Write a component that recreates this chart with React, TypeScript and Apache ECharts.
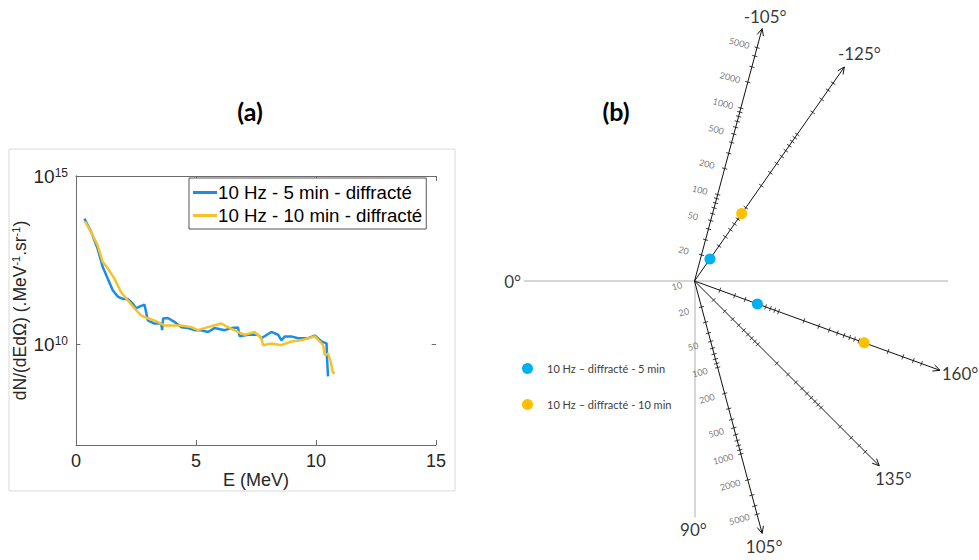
import React, { useEffect, useRef } from 'react';
import * as echarts from 'echarts';

// ---------- Panel (a): energy spectra ----------
const seriesNames = ['10 Hz - 5 min - diffracté', '10 Hz - 10 min - diffracté'];
const energyBlue = [0.35, 0.63, 0.9, 1.11, 1.32, 1.53, 1.74, 1.95, 2.16, 2.37, 2.5, 2.64, 2.85, 2.92, 2.99, 3.27, 3.55, 3.59, 3.63, 3.83, 4.1, 4.38, 4.66, 4.94, 5.22, 5.5, 5.77, 6.19, 6.47, 6.75, 6.82, 7.17, 7.58, 7.72, 8.14, 8.42, 8.56, 8.7, 8.97, 9.25, 9.67, 9.95, 10.23, 10.44, 10.46, 10.5];
const fluxBlue = [5.4e13, 2.2e13, 6.9e12, 2.0e12, 8.9e11, 4.0e11, 2.6e11, 2.2e11, 2.2e11, 1.6e11, 1.15e11, 1.3e11, 1.5e11, 9.1e10, 5.1e10, 4.1e10, 4.1e10, 2.6e10, 5.8e10, 6.0e10, 4.6e10, 3.2e10, 3.0e10, 2.6e10, 2.6e10, 2.3e10, 3.0e10, 2.6e10, 3.0e10, 3.1e10, 1.7e10, 1.9e10, 1.9e10, 1.5e10, 2.3e10, 1.9e10, 1.3e10, 1.7e10, 1.7e10, 1.5e10, 1.5e10, 1.8e10, 1.2e10, 1.05e10, 3.7e9, 1.1e9];
const energyOrange = [0.38, 0.63, 0.9, 1.11, 1.32, 1.6, 1.88, 2.16, 2.44, 2.71, 2.99, 3.27, 3.69, 4.1, 4.38, 4.8, 5.08, 5.5, 6.05, 6.33, 6.75, 7.03, 7.44, 7.72, 7.79, 8.14, 8.56, 8.97, 9.39, 9.95, 10.3, 10.36, 10.5, 10.61, 10.71, 10.78];
const fluxOrange = [4.5e13, 2.1e13, 8.7e12, 2.8e12, 1.8e12, 8.9e11, 3.5e11, 2.0e11, 1.15e11, 7.2e10, 5.8e10, 5.1e10, 3.6e10, 3.6e10, 3.6e10, 3.2e10, 2.6e10, 3.2e10, 4.1e10, 3.2e10, 2.3e10, 1.9e10, 2.3e10, 1.5e10, 9.3e9, 1.05e10, 9.3e9, 1.2e10, 1.3e10, 1.7e10, 9.3e9, 4.7e9, 5.2e9, 3.0e9, 1.35e9, 1.5e9];
const xTickValues = [0, 5, 10, 15];
const yLabelExponents = [10, 15];

// ---------- Panel (b): angular diagram ----------
const rayAngles = [-105, -125, 160, 135, 105]; // degrees as labelled
const rayMaxValue = 8300;
const rayTickValues = [20, 30, 40, 50, 60, 70, 80, 90, 100, 200, 300, 400, 500, 600, 700, 800, 900, 1000, 2000, 3000, 4000, 5000];
const upperTickLabels = [20, 50, 100, 200, 500, 1000, 2000, 5000];
const lowerTickLabels = [10, 20, 50, 100, 200, 500, 1000, 2000, 5000];
const referenceLines = [{ angle: 0, value: 810 }, { angle: 180, value: 6800 }, { angle: 90, value: 4400 }];
const dotNames = ['10 Hz – diffracté - 5 min', '10 Hz – diffracté - 10 min'];
const blueDots = [{ angle: -125, value: 20 }, { angle: 160, value: 56 }];
const orangeDots = [{ angle: -125, value: 83 }, { angle: 160, value: 1040 }];

const BLUE = '#1a8ee6';
const ORANGE = '#f7c12a';
const AXIS = '#6b6b6b';
const SANS = '"Liberation Sans", Arial, sans-serif';
const CAL = 'Lato, "Open Sans", sans-serif';

const polar = (angle: number, value: number): number[] => {
  const r = Math.log10(value / 10);
  const t = ((angle - 180) * Math.PI) / 180;
  return [r * Math.cos(t), r * Math.sin(t)];
};
const dirOf = (angle: number) => {
  const t = ((angle - 180) * Math.PI) / 180;
  return [Math.cos(t), Math.sin(t)];
};

export default function App() {
  const ref = useRef<HTMLDivElement>(null);
  useEffect(() => {
    if (!ref.current) return;
    const chart = echarts.init(ref.current, undefined, { renderer: 'svg' });

    const rayLines: any[] = [];
    const tickLines: any[] = [];
    const tickHalf = 0.03;
    const arrowLen = 0.085;
    rayAngles.forEach((a) => {
      const tip = polar(a, rayMaxValue);
      rayLines.push({ coords: [[0, 0], tip] });
      const [dx, dy] = dirOf(a);
      [25, -25].forEach((w) => {
        const rad = (w * Math.PI) / 180;
        const bx = -(dx * Math.cos(rad) - dy * Math.sin(rad));
        const by = -(dx * Math.sin(rad) + dy * Math.cos(rad));
        rayLines.push({ coords: [tip, [tip[0] + bx * arrowLen, tip[1] + by * arrowLen]] });
      });
      rayTickValues.forEach((v) => {
        const p = polar(a, v);
        tickLines.push({ coords: [[p[0] - dy * tickHalf, p[1] + dx * tickHalf], [p[0] + dy * tickHalf, p[1] - dx * tickHalf]] });
      });
    });
    const refData = referenceLines.map((r) => ({ coords: [[0, 0], polar(r.angle, r.value)] }));

    const labelOffset = 0.205;
    const tickLabelData: any[] = [];
    const addLabels = (angle: number, values: number[], side: number, rot: number) => {
      const [dx, dy] = dirOf(angle);
      values.forEach((v) => {
        const p = polar(angle, v);
        tickLabelData.push({
          value: [p[0] - side * dy * labelOffset, p[1] + side * dx * labelOffset],
          name: String(v),
          label: { rotate: rot },
        });
      });
    };
    addLabels(-105, upperTickLabels, 1, -15);
    addLabels(105, lowerTickLabels, -1, 15);

    const angleOffsets: Record<string, number[]> = {
      '-105': [3, -12], '-125': [15, -13], '160': [20, 3], '135': [14, 13], '105': [2, 13],
    };
    const angleLabelData: any[] = rayAngles.map((a) => ({
      value: polar(a, rayMaxValue),
      name: `${a}°`,
      label: { offset: angleOffsets[String(a)] },
    }));
    angleLabelData.push({ value: polar(0, referenceLines[0].value), name: '0°', label: { offset: [-11, 0] } });
    angleLabelData.push({ value: polar(90, referenceLines[2].value), name: '90°', label: { offset: [-1, 12] } });

    const yLabelFormatter = (v: number) => {
      const e = Math.round(Math.log10(v));
      return yLabelExponents.includes(e) ? `{b|10}{s|${e}}` : '';
    };

    const option: any = {
      animation: false,
      backgroundColor: '#ffffff',
      title: [
        { text: '(a)', left: 245, top: 93, textAlign: 'center', textStyle: { fontFamily: CAL, fontWeight: 'bold', fontSize: 25, color: '#000' } },
        { text: '(b)', left: 611, top: 93, textAlign: 'center', textStyle: { fontFamily: CAL, fontWeight: 'bold', fontSize: 25, color: '#000' } },
      ],
      graphic: [
        { type: 'rect', shape: { x: 9, y: 149, width: 446, height: 342 }, style: { fill: 'none', stroke: '#d9d9d9', lineWidth: 1 }, z: -1 },
      ],
      legend: [
        {
          data: seriesNames,
          left: 189, top: 178, orient: 'vertical',
          icon: 'rect', itemWidth: 24, itemHeight: 3, itemGap: 4,
          padding: [5, 4, 4, 4],
          borderColor: '#555', borderWidth: 1, backgroundColor: '#fff',
          textStyle: { fontFamily: SANS, fontSize: 18.7, color: '#000', padding: [0, 0, 0, -4] },
        },
        {
          data: dotNames,
          left: 522, top: 363, orient: 'vertical',
          icon: 'circle', itemWidth: 11, itemHeight: 11, itemGap: 25,
          padding: 0,
          textStyle: { fontFamily: CAL, fontSize: 11, color: '#404040', padding: [0, 0, 0, 9] },
        },
      ],
      grid: [
        { left: 76, top: 176, width: 360, height: 269 },
        { left: 515.5, top: 12.5, width: 447.5, height: 537 },
      ],
      xAxis: [
        {
          gridIndex: 0, type: 'value', min: 0, max: 15, interval: 5, position: 'bottom',
          axisLine: { show: true, lineStyle: { color: AXIS } },
          axisTick: { inside: true, length: 5, lineStyle: { color: AXIS }, customValues: xTickValues },
          axisLabel: { fontFamily: SANS, fontSize: 18, color: '#262626', margin: 7 },
          splitLine: { show: false },
          name: 'E (MeV)', nameLocation: 'middle', nameGap: 24,
          nameTextStyle: { fontFamily: SANS, fontSize: 18, color: '#262626' },
        },
        {
          gridIndex: 0, type: 'value', min: 0, max: 15, interval: 5, position: 'top',
          axisLine: { show: true, lineStyle: { color: AXIS } },
          axisTick: { inside: true, length: 5, lineStyle: { color: AXIS } },
          axisLabel: { show: false }, splitLine: { show: false },
        },
        { gridIndex: 1, type: 'value', min: -2, max: 3, show: false, splitLine: { show: false } },
      ],
      yAxis: [
        {
          gridIndex: 0, type: 'log', logBase: 10, min: 1e7, max: 1e15, position: 'left',
          axisLine: { show: true, lineStyle: { color: AXIS } },
          axisTick: { show: false },
          axisLabel: {
            margin: 8, showMaxLabel: true, showMinLabel: true, interval: 0,
            formatter: yLabelFormatter,
            rich: {
              b: { fontSize: 19, fontFamily: SANS, color: '#262626' },
              s: { fontSize: 12, fontFamily: SANS, color: '#262626', verticalAlign: 'top', lineHeight: 12, padding: [0, 0, 11, 0] },
            },
          },
          splitLine: { show: false }, minorTick: { show: false },
          name: 'dN/(dEdΩ) (.MeV{s|-1}.sr{s|-1})', nameLocation: 'middle', nameRotate: 90, nameGap: 38,
          nameTextStyle: {
            fontFamily: SANS, fontSize: 17.5, color: '#262626',
            rich: {
              s: { fontSize: 11, fontFamily: SANS, color: '#262626', verticalAlign: 'top', lineHeight: 11, padding: [0, 0, 8, 0] },
            },
          },
        },
        {
          gridIndex: 0, type: 'log', logBase: 10, min: 1e7, max: 1e15, position: 'right',
          axisLine: { show: true, lineStyle: { color: AXIS } },
          axisTick: { show: false },
          axisLabel: { show: false }, splitLine: { show: false },
        },
        { gridIndex: 1, type: 'value', min: -3, max: 3, show: false, splitLine: { show: false } },
      ],
      series: [
        {
          name: seriesNames[0], type: 'line', xAxisIndex: 0, yAxisIndex: 0, showSymbol: false, symbol: 'none',
          lineStyle: { color: BLUE, width: 2.5 }, itemStyle: { color: BLUE },
          data: energyBlue.map((e, i) => [e, fluxBlue[i]]),
          markLine: {
            silent: true, symbol: 'none', label: { show: false },
            lineStyle: { color: AXIS, type: 'solid', width: 1 },
            data: [
              [{ coord: [0, 1e10] }, { coord: [0.18, 1e10] }],
              [{ coord: [14.82, 1e10] }, { coord: [15, 1e10] }],
            ],
          },
        },
        {
          name: seriesNames[1], type: 'line', xAxisIndex: 0, yAxisIndex: 0, showSymbol: false, symbol: 'none',
          lineStyle: { color: ORANGE, width: 2.5 }, itemStyle: { color: ORANGE },
          data: energyOrange.map((e, i) => [e, fluxOrange[i]]),
        },
        {
          type: 'lines', coordinateSystem: 'cartesian2d', xAxisIndex: 2, yAxisIndex: 2,
          lineStyle: { color: '#c8c8c8', width: 1.5, opacity: 1 }, data: refData, silent: true,
        },
        {
          type: 'lines', coordinateSystem: 'cartesian2d', xAxisIndex: 2, yAxisIndex: 2,
          lineStyle: { color: '#111', width: 1, opacity: 1 }, data: rayLines, silent: true,
        },
        {
          type: 'lines', coordinateSystem: 'cartesian2d', xAxisIndex: 2, yAxisIndex: 2,
          lineStyle: { color: '#111', width: 0.8, opacity: 1 }, data: tickLines, silent: true,
        },
        {
          type: 'scatter', xAxisIndex: 2, yAxisIndex: 2, symbolSize: 0, silent: true,
          label: { show: true, position: 'inside', formatter: '{b}', fontFamily: CAL, fontSize: 9, color: '#595959' },
          data: tickLabelData,
        },
        {
          type: 'scatter', xAxisIndex: 2, yAxisIndex: 2, symbolSize: 0, silent: true,
          label: { show: true, position: 'inside', formatter: '{b}', fontFamily: CAL, fontSize: 17, color: '#000' },
          data: angleLabelData,
        },
        {
          name: dotNames[0], type: 'scatter', xAxisIndex: 2, yAxisIndex: 2, symbolSize: 11,
          itemStyle: { color: '#00b0f0', opacity: 1 }, z: 5,
          data: blueDots.map((d) => polar(d.angle, d.value)),
        },
        {
          name: dotNames[1], type: 'scatter', xAxisIndex: 2, yAxisIndex: 2, symbolSize: 11,
          itemStyle: { color: '#ffc000', opacity: 1 }, z: 5,
          data: orangeDots.map((d) => polar(d.angle, d.value)),
        },
      ],
    };
    chart.setOption(option);
    return () => chart.dispose();
  }, []);
  return <div ref={ref} style={{ position: 'fixed', left: 0, top: 0, width: 979, height: 560 }} />;
}
